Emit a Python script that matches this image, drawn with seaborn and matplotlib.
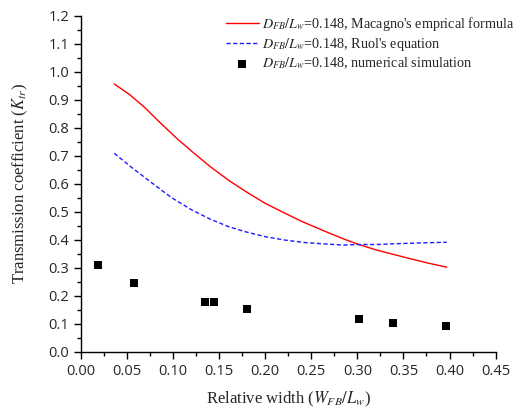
import pandas as pd
import matplotlib.pyplot as plt
import seaborn as sns
from matplotlib.ticker import MultipleLocator

mac_x = [0.036, 0.053, 0.068, 0.086, 0.104, 0.122, 0.140, 0.160, 0.180, 0.200,
         0.220, 0.240, 0.265, 0.285, 0.299, 0.320, 0.353, 0.375, 0.397]
mac_y = [0.957, 0.918, 0.876, 0.818, 0.762, 0.711, 0.662, 0.613, 0.570, 0.530,
         0.497, 0.465, 0.430, 0.403, 0.386, 0.364, 0.336, 0.318, 0.302]

# Ruol's equation
ruol_x = [0.036, 0.057, 0.079, 0.098, 0.120, 0.140, 0.160, 0.178, 0.200, 0.221,
          0.243, 0.265, 0.285, 0.299, 0.320, 0.343, 0.370, 0.397]
ruol_y = [0.709, 0.653, 0.598, 0.551, 0.507, 0.474, 0.447, 0.429, 0.411, 0.399,
          0.390, 0.385, 0.381, 0.383, 0.383, 0.386, 0.389, 0.391]

# numerical simulation
sim_x = [0.018, 0.0575, 0.1346, 0.144, 0.180, 0.302, 0.339, 0.396]
sim_y = [0.310, 0.245, 0.179, 0.179, 0.152, 0.117, 0.103, 0.093]

lab_mac = r"$D_{FB}/L_w$=0.148, Macagno's emprical formula"
lab_ruol = r"$D_{FB}/L_w$=0.148, Ruol's equation"
lab_sim = r"$D_{FB}/L_w$=0.148, numerical simulation"

sns.set_style('ticks')
plt.rcParams['mathtext.fontset'] = 'stix'

fig = plt.figure(figsize=(5.13, 4.08), dpi=100)
ax = fig.add_axes([0.158, 0.138, 0.808, 0.823])

sns.lineplot(x=mac_x, y=mac_y, ax=ax, color='#ff0000', lw=1.0, label=lab_mac)
sns.lineplot(x=ruol_x, y=ruol_y, ax=ax, color='#1a1aff', lw=1.0, label=lab_ruol,
             linestyle=(0, (3, 1.8)))
sns.scatterplot(x=sim_x, y=sim_y, ax=ax, marker='s', color='black', s=40,
                edgecolor='black', linewidth=0, label=lab_sim)

ax.set_xlim(0, 0.45)
ax.set_ylim(0, 1.2)
ax.xaxis.set_major_locator(MultipleLocator(0.05))
ax.xaxis.set_minor_locator(MultipleLocator(0.025))
ax.yaxis.set_major_locator(MultipleLocator(0.1))
ax.yaxis.set_minor_locator(MultipleLocator(0.05))
ax.xaxis.set_major_formatter(lambda v, p: f'{v:.2f}')
ax.yaxis.set_major_formatter(lambda v, p: f'{v:.1f}')
ax.tick_params(which='major', direction='out', length=5, width=1, color='black')
ax.tick_params(which='minor', direction='out', length=3, width=1, color='black')
for lab in ax.get_xticklabels() + ax.get_yticklabels():
    lab.set_fontfamily('Open Sans')
    lab.set_fontsize(10.5)
for s in ['left', 'bottom']:
    ax.spines[s].set_color('black')
    ax.spines[s].set_linewidth(1)
sns.despine(ax=ax)

ax.set_xlabel(r'Relative width ($W_{FB}/L_w$)', fontfamily='Liberation Serif', fontsize=12, labelpad=8)
ax.set_ylabel(r'Transmission coefficient ($K_{tr}$)', fontfamily='Liberation Serif', fontsize=12, labelpad=13)

leg = ax.legend(loc='upper right', frameon=False, prop={'family': 'Liberation Serif', 'size': 10.2},
                handlelength=2.33, handletextpad=0.2, labelspacing=0.2,
                borderaxespad=0.0, bbox_to_anchor=(1.058, 1.02))

fig.savefig('out.png', dpi=100)
